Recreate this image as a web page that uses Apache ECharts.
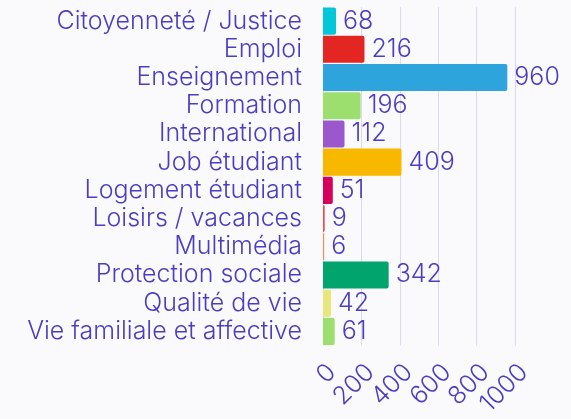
<!DOCTYPE html>
<html>
<head>
<meta charset="utf-8">
<script src="https://cdn.jsdelivr.net/npm/echarts@6/dist/echarts.min.js"></script>
<style>
  html, body { margin: 0; padding: 0; background: #fafafc; }
  #main { width: 571px; height: 419px; }
</style>
</head>
<body>
<div id="main"></div>
<script>
const categories = [
  "Citoyenneté / Justice",
  "Emploi",
  "Enseignement",
  "Formation",
  "International",
  "Job étudiant",
  "Logement étudiant",
  "Loisirs / vacances",
  "Multimédia",
  "Protection sociale",
  "Qualité de vie",
  "Vie familiale et affective",
];
const values = [68, 216, 960, 196, 112, 409, 51, 9, 6, 342, 42, 61];
const barColors = [
  "#00c8d8", "#e42622", "#2ea4dd", "#9ddf6f", "#9b58cc", "#f8b800",
  "#d6005b", "#e8524a", "#f08c52", "#00a46c", "#e8e67c", "#9ddf6f",
];
const xTicks = [0, 200, 400, 600, 800, 1000];

const textColor = "#4c3cc2";
const fontFamily = "Inter, 'Noto Sans', sans-serif";

const chart = echarts.init(document.getElementById("main"), null, { renderer: "canvas" });

const option = {
  backgroundColor: "#fafafc",
  animation: false,
  grid: {
    left: 323,
    right: 56,
    top: 7,
    bottom: 71,
    containLabel: false,
  },
  xAxis: {
    type: "value",
    min: xTicks[0],
    max: xTicks[xTicks.length - 1],
    interval: 200,
    axisLine: { show: false },
    axisTick: { show: false },
    splitLine: { lineStyle: { color: "#dcdaf0", width: 1 } },
    axisLabel: {
      rotate: 45,
      margin: 14,
      verticalAlign: "top",
      color: textColor,
      fontSize: 25,
      fontWeight: 300,
      fontFamily: fontFamily,
      formatter: (v) => String(v),
    },
  },
  yAxis: {
    type: "category",
    data: categories,
    inverse: true,
    axisLine: { show: false },
    axisTick: { show: false },
    axisLabel: {
      interval: 0,
      margin: 21,
      color: textColor,
      fontSize: 25,
      fontWeight: 300,
      fontFamily: fontFamily,
    },
  },
  series: [
    {
      type: "bar",
      barCategoryGap: "4%",
      data: values.map((v, i) => ({
        value: v,
        itemStyle: { color: barColors[i], borderRadius: [0, 2, 2, 0] },
      })),
      label: {
        show: true,
        position: "right",
        distance: 7,
        color: textColor,
        fontSize: 25,
        fontWeight: 300,
        fontFamily: fontFamily,
      },
    },
  ],
};

chart.setOption(option);
</script>
</body>
</html>
